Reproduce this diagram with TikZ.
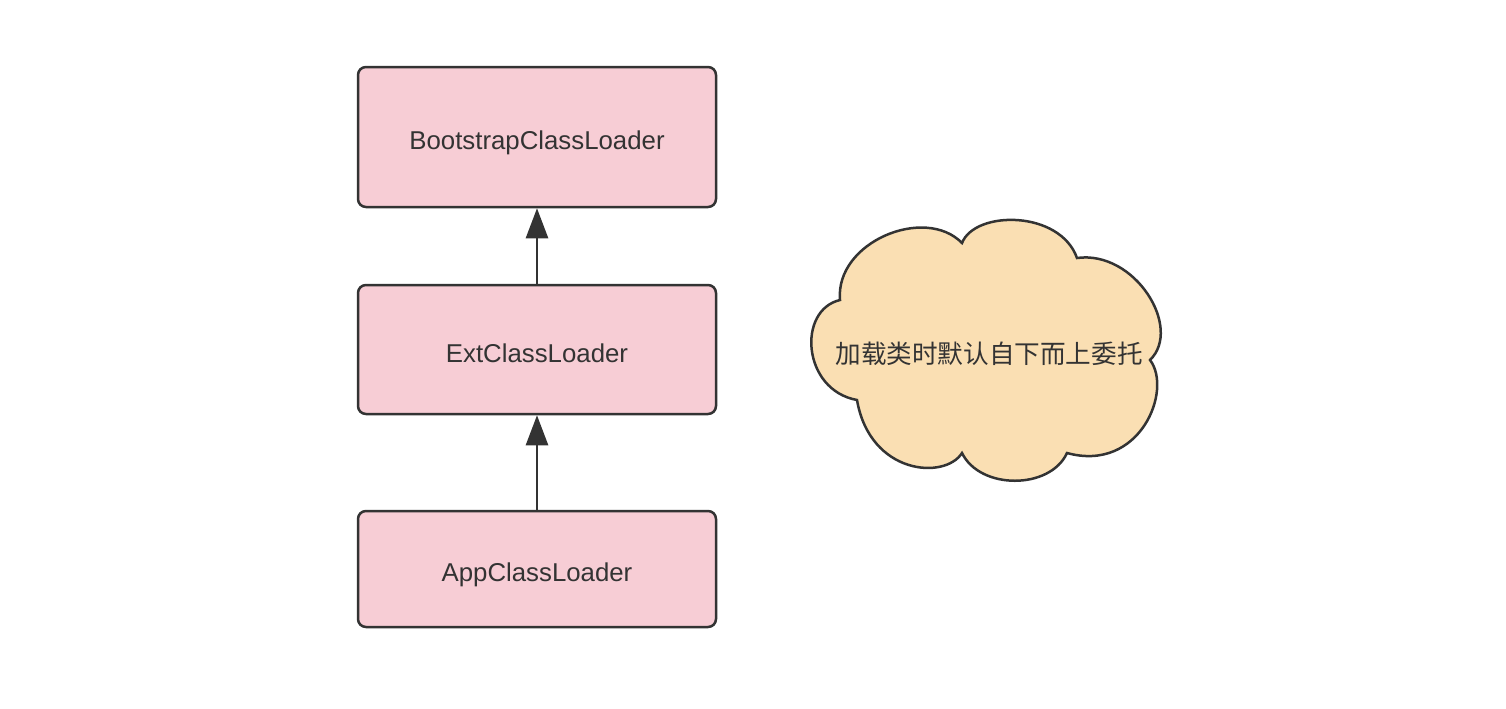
\documentclass[tikz,border=0pt]{standalone}
\usepackage{fontspec}
\setmainfont{Liberation Sans}
\newfontfamily\cjk{Noto Sans CJK SC}
\usetikzlibrary{arrows.meta}
\definecolor{boxfill}{RGB}{247,205,213}
\definecolor{cloudfill}{RGB}{250,223,179}
\definecolor{ink}{RGB}{51,51,51}
\begin{document}
\begin{tikzpicture}[x=0.5pt,y=-0.5pt,
  loader/.style={draw=ink, line width=1.25pt, fill=boxfill, rounded corners=4pt,
    minimum width=179pt, inner sep=0pt, text=ink, text height=12.5pt, text depth=0pt,
    font=\fontsize{12.9}{15}\selectfont},
  uparrow/.style={draw=ink, line width=1.3pt, -{Triangle[length=15pt,width=11pt]}}]
\useasboundingbox (0,0) rectangle (1506,708);
\fill[white] (0,0) rectangle (1506,708);
\node[loader, minimum height=70pt] (boot) at (537,137) {BootstrapClassLoader};
\node[loader, minimum height=64.5pt] (ext) at (537,349.5) {ExtClassLoader};
\node[loader, minimum height=58pt] (app) at (537,569) {AppClassLoader};
\draw[uparrow] (app.north) -- (ext.south);
\draw[uparrow] (ext.north) -- (boot.south);
\draw[draw=ink, line width=1.25pt, fill=cloudfill]
  (840,300) .. controls (835,242) and (925,205) .. (962,243)
  .. controls (975,210) and (1060,210) .. (1077,258)
  .. controls (1135,250) and (1183,328) .. (1150,360)
  .. controls (1173,390) and (1140,473) .. (1067,453)
  .. controls (1050,490) and (980,490) .. (962,453)
  .. controls (945,480) and (870,475) .. (857,400)
  .. controls (802,390) and (797,310) .. (840,300) -- cycle;
\node[text=ink, font=\cjk\fontsize{12.8}{15}\selectfont, inner sep=0pt] (note) at (989,354) {加载类时默认自下而上委托};
\end{tikzpicture}
\end{document}
